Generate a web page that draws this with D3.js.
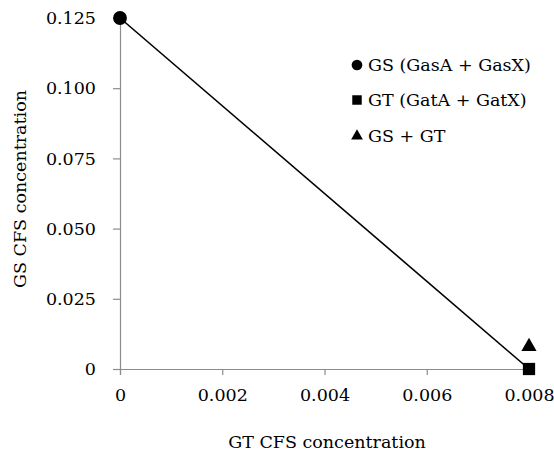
<!DOCTYPE html>
<html>
<head>
<meta charset="utf-8" />
<title>Isobologram</title>
<script src="https://cdn.jsdelivr.net/npm/d3@7"></script>
<style>
  body { margin: 0; background: #fff; }
  text { font-family: "DejaVu Serif", serif; fill: #000; }
</style>
</head>
<body>
<div id="chart"></div>
<script>
// data
var seriesNames = ["GS (GasA + GasX)", "GT (GatA + GatX)", "GS + GT"];
var seriesShapes = ["circle", "square", "triangle"];
var gtConc = [0, 0.008, 0.008];      // x values
var gsConc = [0.125, 0, 0.008];      // y values
var lineX = [0, 0.008];
var lineY = [0.125, 0];
var xTicks = [0, 0.002, 0.004, 0.006, 0.008];
var yTicks = [0, 0.025, 0.05, 0.075, 0.1, 0.125];

var width = 554, height = 453;
var fontSize = "17.5px";
var svg = d3.select("#chart").append("svg")
    .attr("width", width).attr("height", height);

var x = d3.scaleLinear().domain([0, 0.008]).range([120, 529]);
var y = d3.scaleLinear().domain([0, 0.125]).range([369, 18]);

var axisColor = "#8c8c8c";
var fmt = function(d) { return d === 0 ? "0" : d3.format(".3f")(d); };

// y axis
svg.append("g")
    .attr("transform", "translate(" + x(0) + ",0)")
    .call(d3.axisLeft(y).tickValues(yTicks).tickSize(7).tickPadding(17).tickFormat(fmt));
// x axis
svg.append("g")
    .attr("transform", "translate(0," + y(0) + ")")
    .call(d3.axisBottom(x).tickValues(xTicks).tickSize(6).tickPadding(14).tickFormat(fmt));

svg.selectAll(".domain").attr("stroke", axisColor).attr("stroke-width", 1.2);
svg.selectAll(".tick line").attr("stroke", axisColor).attr("stroke-width", 1.2);
svg.selectAll(".tick text").style("font-family", "'DejaVu Serif', serif")
    .style("font-size", fontSize).attr("fill", "#000");

// axis titles
svg.append("text")
    .attr("x", 327).attr("y", 448)
    .attr("text-anchor", "middle")
    .style("font-size", fontSize)
    .text("GT CFS concentration");

svg.append("text")
    .attr("transform", "translate(26,189) rotate(-90)")
    .attr("text-anchor", "middle")
    .style("font-size", fontSize)
    .text("GS CFS concentration");

// additive line
svg.append("path")
    .datum(d3.range(lineX.length))
    .attr("fill", "none")
    .attr("stroke", "#000")
    .attr("stroke-width", 1.6)
    .attr("d", d3.line().x(function(i) { return x(lineX[i]); }).y(function(i) { return y(lineY[i]); }));

function symbolFor(shape, scale) {
  if (shape === "circle") return d3.symbol().type(d3.symbolCircle).size(150 * scale);
  if (shape === "square") return d3.symbol().type(d3.symbolSquare).size(150 * scale);
  return d3.symbol().type(d3.symbolTriangle).size(100 * scale);
}

// points
svg.selectAll("path.pt")
    .data(d3.range(seriesNames.length))
    .enter().append("path")
    .attr("class", "pt")
    .attr("d", function(i) { return symbolFor(seriesShapes[i], 1)(); })
    .attr("transform", function(i) { return "translate(" + x(gtConc[i]) + "," + y(gsConc[i]) + ")"; })
    .attr("fill", "#000");

// legend
var legendY = [65, 100, 136];
var leg = svg.selectAll("g.leg")
    .data(d3.range(seriesNames.length))
    .enter().append("g")
    .attr("class", "leg")
    .attr("transform", function(i) { return "translate(357," + legendY[i] + ")"; });

leg.append("path")
    .attr("d", function(i) { return symbolFor(seriesShapes[i], 0.6)(); })
    .attr("fill", "#000");

leg.append("text")
    .attr("x", 11).attr("y", 6)
    .style("font-size", fontSize)
    .text(function(i) { return seriesNames[i]; });
</script>
</body>
</html>
